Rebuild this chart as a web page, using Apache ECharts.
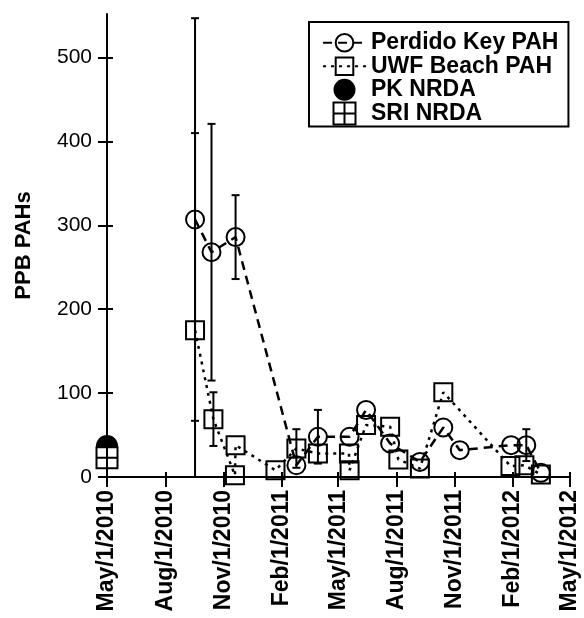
<!DOCTYPE html>
<html><head><meta charset="utf-8">
<script src="https://cdn.jsdelivr.net/npm/echarts@6/dist/echarts.min.js"></script>
<style>html,body{margin:0;padding:0;background:#fff}#c{width:584px;height:618px}</style>
</head><body><div id="c"></div>
<script>
// ---- data ----
const xTickDates = ['2010-05-01','2010-08-01','2010-11-01','2011-02-01','2011-05-01','2011-08-01','2011-11-01','2012-02-01','2012-05-01'];
const xTickLabels = ['May/1/2010','Aug/1/2010','Nov/1/2010','Feb/1/2011','May/1/2011','Aug/1/2011','Nov/1/2011','Feb/1/2012','May/1/2012'];
const yTicks = [0,100,200,300,400,500];

const pkDates  = ['2010-09-17','2010-10-13','2010-11-20','2011-02-24','2011-03-30','2011-05-19','2011-06-14','2011-07-22','2011-09-07','2011-10-14','2011-11-09','2012-01-29','2012-02-22','2012-03-16'];
const pkValues = [307,268,286,14,48,48,80,40,18,59,32,38,38,5];
const pkErrors = [240,153,50,0,32,0,0,0,0,0,0,0,19,0];

const uwfDates  = ['2010-09-17','2010-10-16','2010-11-19','2010-11-20','2011-01-22','2011-02-24','2011-03-30','2011-05-18','2011-05-19','2011-06-14','2011-07-22','2011-08-04','2011-09-07','2011-10-14','2012-01-28','2012-02-19','2012-03-16'];
const uwfValues = [175,69,2,38,8,34,28,28,8,62,60,21,10,101,13,14,3];
const uwfErrors = [235,32,0,0,0,23,0,0,0,0,0,0,0,0,0,0,0];

const pkNrdaDates = ['2010-05-01'];
const pkNrdaValues = [37];
const sriNrdaDates = ['2010-05-01'];
const sriNrdaValues = [23];

// ---- helpers ----
function ts(s){ const p = s.split('-').map(Number); return Date.UTC(p[0], p[1]-1, p[2]); }
const xTicks = xTickDates.map(ts);
const xMin = xTicks[0], xMax = xTicks[xTicks.length-1];
const yMax = 552;
const labelMap = {}; xTicks.forEach((t,i)=>labelMap[t]=xTickLabels[i]);
function pts(d, v){ return d.map((s,i)=>[ts(s), v[i]]); }
function errs(d, v, e){ const out=[]; d.forEach((s,i)=>{ if(e[i]>0) out.push([ts(s), v[i], e[i]]); }); return out; }

function errRender(params, api){
  const x = api.value(0), v = api.value(1), e = api.value(2);
  const hiV = Math.min(yMax, v + e), loV = v - e;
  const hi = api.coord([x, hiV]);
  const lo = api.coord([x, Math.max(0, loV)]);
  const w = 4, st = {stroke:'#000', lineWidth:2};
  const ch = [{type:'line', shape:{x1:hi[0],y1:hi[1],x2:lo[0],y2:lo[1]}, style:st},
              {type:'line', shape:{x1:hi[0]-w,y1:hi[1],x2:hi[0]+w,y2:hi[1]}, style:st}];
  if (loV >= 0) ch.push({type:'line', shape:{x1:lo[0]-w,y1:lo[1],x2:lo[0]+w,y2:lo[1]}, style:st});
  return {type:'group', children: ch};
}

const FONT = '"Liberation Sans", Arial, sans-serif';
const hollow = {color:'rgba(255,255,255,0)', borderColor:'#000', borderWidth:2, opacity:1};
const sriPath = 'path://M0 0H20V20H0Z M10 0V20 M0 10H20';

const chart = echarts.init(document.getElementById('c'), null, {renderer:'canvas'});
chart.setOption({
  animation:false,
  backgroundColor:'#fff',
  textStyle:{fontFamily:FONT, color:'#000'},
  grid:{left:107, right:14, top:14, bottom:141, containLabel:false, outerBoundsMode:'none'},
  legend:{
    left:309, top:22, orient:'vertical',
    borderColor:'#000', borderWidth:2, padding:[9,10,1,13],
    itemWidth:43, itemHeight:22, itemGap:0,
    textStyle:{fontFamily:FONT, fontWeight:'bold', fontSize:23, color:'#000', lineHeight:23.5},
    data:['Perdido Key PAH','UWF Beach PAH','PK NRDA','SRI NRDA']
  },
  xAxis:[{
    type:'value', min:xMin, max:xMax, position:'bottom',
    axisLine:{show:true, lineStyle:{color:'#000', width:2}},
    axisTick:{show:true, inside:false, length:10, lineStyle:{color:'#000', width:2}, customValues:xTicks},
    axisLabel:{show:true, rotate:90, margin:13, fontFamily:FONT, fontWeight:'bold', fontSize:23, color:'#000',
      customValues:xTicks, formatter:(v)=>labelMap[v] || ''},
    splitLine:{show:false}
  },{
    type:'value', min:xMin, max:xMax, position:'bottom',
    axisLine:{show:false},
    axisTick:{show:true, inside:true, length:5, lineStyle:{color:'#000', width:2}, customValues:xTicks},
    axisLabel:{show:false}, splitLine:{show:false}
  }],
  yAxis:[{
    type:'value', min:0, max:yMax, position:'left',
    name:'PPB PAHs', nameLocation:'middle', nameGap:72, nameRotate:90,
    nameTextStyle:{fontFamily:FONT, fontWeight:'bold', fontSize:22, color:'#000'},
    axisLine:{show:true, lineStyle:{color:'#000', width:2}},
    axisTick:{show:true, inside:false, length:9, lineStyle:{color:'#000', width:2}, customValues:yTicks},
    axisLabel:{show:true, margin:15, fontFamily:FONT, fontSize:21, color:'#000', customValues:yTicks},
    splitLine:{show:false}
  },{
    type:'value', min:0, max:yMax, position:'left',
    axisLine:{show:false},
    axisTick:{show:true, inside:true, length:6, lineStyle:{color:'#000', width:2}, customValues:yTicks},
    axisLabel:{show:false}, splitLine:{show:false}
  }],
  series:[
    {type:'custom', name:'pkErr', renderItem:errRender, data:errs(pkDates,pkValues,pkErrors), z:1, silent:true},
    {type:'custom', name:'uwfErr', renderItem:errRender, data:errs(uwfDates,uwfValues,uwfErrors), z:1, silent:true},
    {type:'line', name:'Perdido Key PAH', data:pts(pkDates,pkValues), symbol:'circle', symbolSize:18,
      itemStyle:hollow, lineStyle:{color:'#000', width:2.5, type:[9,6]}, z:3},
    {type:'line', name:'UWF Beach PAH', data:pts(uwfDates,uwfValues), symbol:'rect', symbolSize:18,
      itemStyle:hollow, lineStyle:{color:'#000', width:2.5, type:[3,5]}, z:3},
    {type:'scatter', name:'PK NRDA', data:pts(pkNrdaDates,pkNrdaValues), symbol:'circle', symbolSize:22,
      itemStyle:{color:'#000', opacity:1}, z:4},
    {type:'scatter', name:'SRI NRDA', data:pts(sriNrdaDates,sriNrdaValues), symbol:sriPath, symbolSize:21,
      itemStyle:{color:'#fff', borderColor:'#000', borderWidth:2, opacity:1}, z:5}
  ]
});
</script>
</body></html>
